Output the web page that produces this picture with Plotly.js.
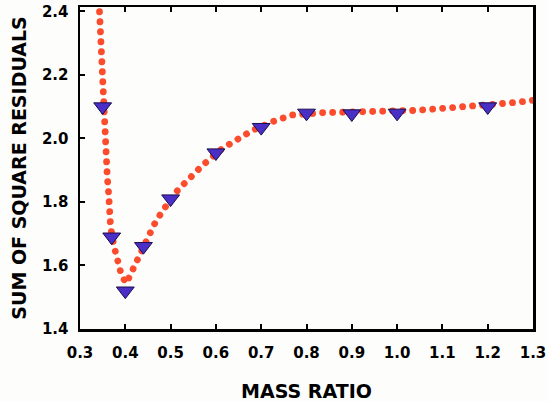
<!DOCTYPE html>
<html>
<head>
<meta charset="utf-8">
<script src="https://cdn.plot.ly/plotly-3.0.1.min.js"></script>
<style>
  html, body { margin: 0; padding: 0; background: #fdfdfb; }
  #chart { width: 548px; height: 402px; }
</style>
</head>
<body>
<div id="chart"></div>
<script>
// Measured points (mass ratio vs sum of square residuals)
const massRatio = [0.35, 0.37, 0.40, 0.44, 0.50, 0.60, 0.70, 0.80, 0.90, 1.00, 1.20];
const residuals = [2.10, 1.69, 1.52, 1.66, 1.81, 1.955, 2.035, 2.08, 2.078, 2.08, 2.10];

// Fitted curve (dotted)
const curveX = [0.3431, 0.3482, 0.3527, 0.3564, 0.3602, 0.3637, 0.3675, 0.3748, 0.3801, 0.3858,
                0.3918, 0.4022, 0.4117, 0.4221, 0.4301, 0.4515, 0.4642, 0.4774, 0.4907, 0.5091,
                0.5274, 0.5482, 0.5717, 0.6146, 0.6367, 0.6588, 0.6801, 0.7252, 0.7473, 0.7686,
                0.835, 0.9235, 0.9677, 1.034, 1.076, 1.120, 1.1646, 1.222, 1.266, 1.2885, 1.30];
const curveY = [2.399, 2.210, 2.037, 1.974, 1.880, 1.817, 1.722, 1.662, 1.631, 1.599,
                1.568, 1.544, 1.573, 1.605, 1.635, 1.697, 1.730, 1.761, 1.793, 1.827,
                1.854, 1.885, 1.917, 1.969, 1.988, 2.006, 2.025, 2.053, 2.064, 2.074,
                2.081, 2.083, 2.083, 2.088, 2.092, 2.097, 2.100, 2.105, 2.114, 2.118, 2.12];

const xTicks = [0.3, 0.4, 0.5, 0.6, 0.7, 0.8, 0.9, 1.0, 1.1, 1.2, 1.3];
const xTickText = ['0.3', '0.4', '0.5', '0.6', '0.7', '0.8', '0.9', '1.0', '1.1', '1.2', '1.3'];
const yTicks = [1.4, 1.6, 1.8, 2.0, 2.2, 2.4];
const yTickText = ['1.4', '1.6', '1.8', '2.0', '2.2', '2.4'];

const FONT = 'DejaVu Sans, Arial, sans-serif';

const traces = [
  {
    x: curveX, y: curveY, type: 'scatter', mode: 'lines',
    line: { color: '#fb4d2e', width: 6.8, dash: '0px,10px' },
    hoverinfo: 'skip', showlegend: false
  },
  {
    x: massRatio, y: residuals, type: 'scatter', mode: 'markers',
    marker: { symbol: 'triangle-down', size: 15.5, color: '#4a2fc6',
              line: { color: '#1c0c4c', width: 1 } },
    showlegend: false
  }
];

const layout = {
  width: 548, height: 402,
  margin: { l: 80, r: 15, t: 7, b: 73 },
  paper_bgcolor: '#fdfdfb', plot_bgcolor: '#fdfdfb',
  font: { family: FONT, color: '#000' },
  showlegend: false,
  xaxis: {
    range: [0.3, 1.3], tickmode: 'array', tickvals: xTicks, ticktext: xTickText,
    ticks: 'inside', ticklen: 5, tickwidth: 2, tickcolor: '#000',
    showline: true, linewidth: 2.5, linecolor: '#000', mirror: 'ticks',
    showgrid: false, zeroline: false,
    tickfont: { family: FONT, size: 15, color: '#000', weight: 'bold' },
    ticklabelstandoff: 8,
    title: { text: '<b>MASS RATIO</b>', font: { family: FONT, size: 19, color: '#000' }, standoff: 25 }
  },
  yaxis: {
    range: [1.4, 2.414], tickmode: 'array', tickvals: yTicks, ticktext: yTickText,
    ticks: 'inside', ticklen: 5, tickwidth: 2, tickcolor: '#000',
    showline: true, linewidth: 2.5, linecolor: '#000', mirror: true,
    showgrid: false, zeroline: false,
    tickfont: { family: FONT, size: 15, color: '#000', weight: 'bold' },
    ticklabelstandoff: 6,
    title: { text: '<b>SUM OF SQUARE RESIDUALS</b>', font: { family: FONT, size: 19, color: '#000' }, standoff: 11 }
  }
};

Plotly.newPlot('chart', traces, layout, { displayModeBar: false, staticPlot: true }).then(function (gd) {
  gd.querySelectorAll('.scatterlayer .trace path.js-line').forEach(function (p) {
    p.style.strokeLinecap = 'round';
    p.style.strokeDasharray = '0.01px,10px';
  });
});
</script>
</body>
</html>
